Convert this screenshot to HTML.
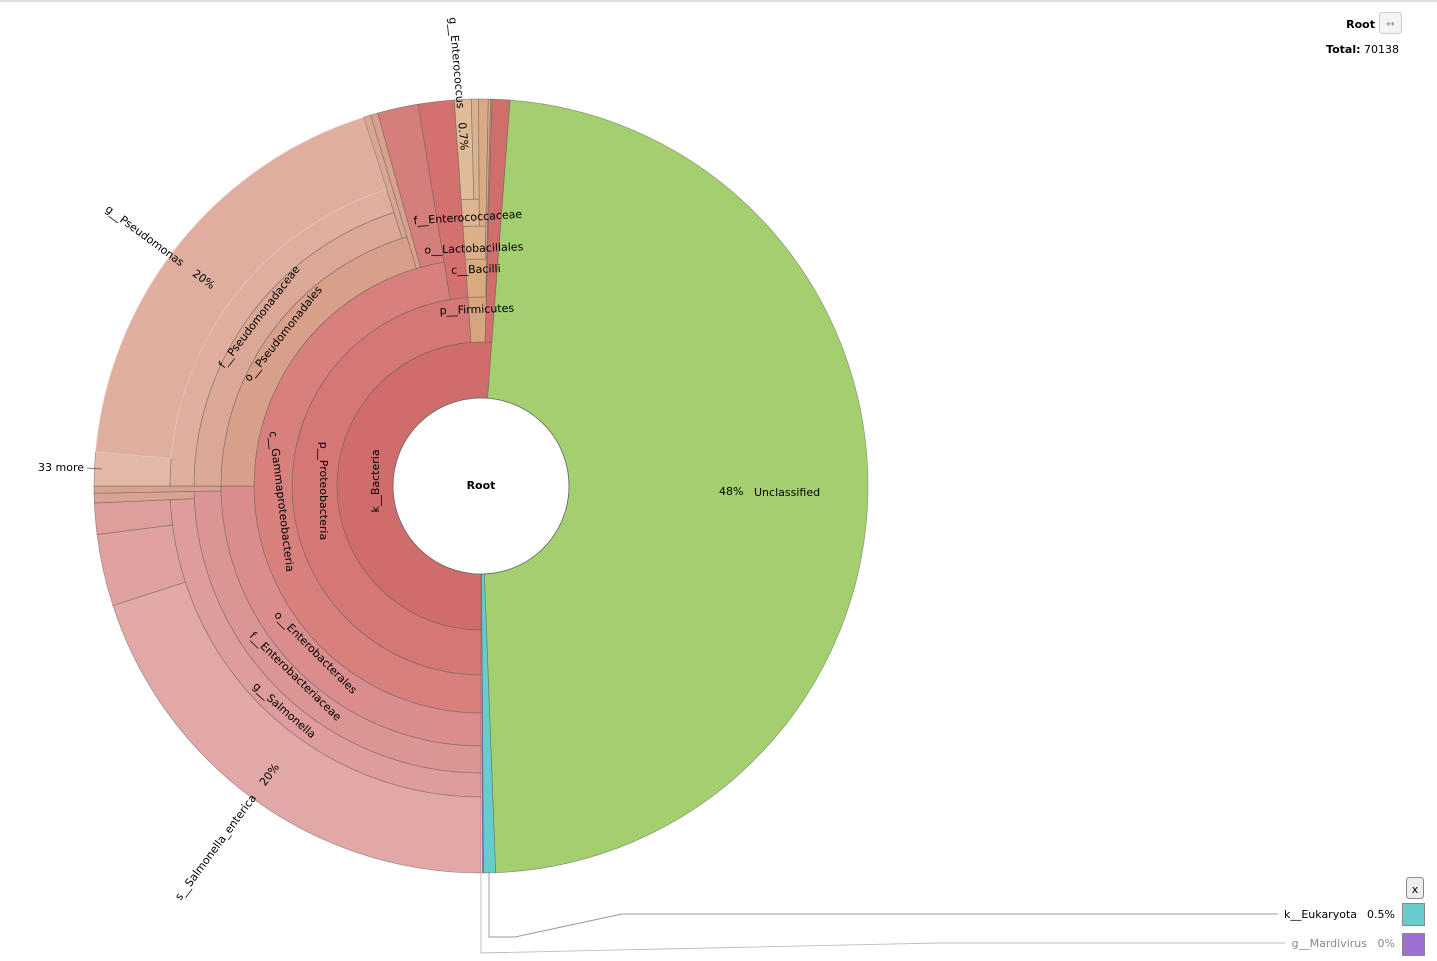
<!DOCTYPE html>
<html><head><meta charset="utf-8"><style>
html,body{margin:0;padding:0;background:#fff;width:1437px;height:961px;overflow:hidden;font-family:"DejaVu Sans","Liberation Sans",sans-serif;}
svg{position:absolute;left:0;top:0}
text{font-family:"DejaVu Sans","Liberation Sans",sans-serif;font-size:11px;fill:#000;white-space:pre}
</style></head><body>
<svg id="chart" width="1437" height="961">
<line x1="0" y1="1" x2="1437" y2="1" stroke="#bbb"/>
<g id="wedges"></g>
<circle cx="481" cy="486" r="88" fill="#fff" stroke="#666" stroke-width="0.8"/>
<text x="481" y="489" text-anchor="middle" font-weight="bold">Root</text>
<g id="labels">
<text transform="translate(379,481) rotate(-90)" text-anchor="middle">k__Bacteria</text>
<text transform="translate(320,491) rotate(90)" text-anchor="middle">p__Proteobacteria</text>
<text transform="translate(278,502) rotate(83)" text-anchor="middle">c__Gammaproteobacteria</text>
<text transform="translate(313,655) rotate(45)" text-anchor="middle">o__Enterobacterales</text>
<text transform="translate(293,679) rotate(44)" text-anchor="middle">f__Enterobacteriaceae</text>
<text transform="translate(282,713) rotate(41)" text-anchor="middle">g__Salmonella</text>
<text transform="translate(230,834) rotate(-53.5)" text-anchor="middle">s__Salmonella_enterica    20%</text>
<text transform="translate(158,250) rotate(36.5)" text-anchor="middle">g__Pseudomonas    20%</text>
<text transform="translate(262,319) rotate(-52.6)" text-anchor="middle">f__Pseudomonadaceae</text>
<text transform="translate(286,336) rotate(-51.7)" text-anchor="middle">o__Pseudomonadales</text>
<text x="84" y="471" text-anchor="end">33 more</text>
<line x1="87" y1="468" x2="102" y2="469" stroke="#555" stroke-width="0.8"/>
<text transform="translate(455,84) rotate(85)" text-anchor="middle">g__Enterococcus    0.7%</text>
<text transform="translate(468,221) rotate(-3.5)" text-anchor="middle">f__Enterococcaceae</text>
<text transform="translate(474,252) rotate(-2)" text-anchor="middle">o__Lactobacillales</text>
<text transform="translate(476,273) rotate(-2)" text-anchor="middle">c__Bacilli</text>
<text transform="translate(477,313) rotate(-2)" text-anchor="middle">p__Firmicutes</text>
<text x="719" y="495">48%</text>
<text x="754" y="496">Unclassified</text>
</g>
<text x="1375" y="28" text-anchor="end" font-weight="bold">Root</text>
<rect x="1379.5" y="12.5" width="22" height="21" rx="3" fill="#f4f4f4" stroke="#ccc"/>
<text x="1390.5" y="27" text-anchor="middle" style="fill:#888;font-size:10px">↔</text>
<text x="1399" y="53" text-anchor="end"><tspan font-weight="bold">Total:</tspan> 70138</text>
<rect x="1406.5" y="877.5" width="17" height="21" rx="3" fill="#eee" stroke="#888"/>
<text x="1415" y="893" text-anchor="middle">x</text>
<polyline points="1278,914 622,914 515,937 489,937 489,873" fill="none" stroke="#999" stroke-width="0.9"/>
<polyline points="1285,943 937,943 481,953 481,873" fill="none" stroke="#bbb" stroke-width="0.9"/>
<text x="1357" y="918" text-anchor="end">k__Eukaryota</text>
<text x="1395" y="918" text-anchor="end">0.5%</text>
<rect x="1402.5" y="903.5" width="22" height="22" fill="#66cccc" stroke="#888"/>
<text x="1367" y="947" text-anchor="end" style="fill:#888">g__Mardivirus</text>
<text x="1395" y="947" text-anchor="end" style="fill:#888">0%</text>
<rect x="1402.5" y="933.5" width="22" height="22" fill="#9b6fd4" stroke="#888"/>
</svg>
<script>
// Hierarchy data (percent of total reads)
const nodeNames = ["Root","k__Bacteria","p__Proteobacteria","c__Gammaproteobacteria","o__Enterobacterales","f__Enterobacteriaceae","g__Salmonella","s__Salmonella_enterica","s__Salmonella_other1","s__Salmonella_other2","g__other_entero","f__other_entero","o__Pseudomonadales","f__Pseudomonadaceae","g__Pseudomonas","33 more","s__Pseudomonas_sp","f__other_pseudo","o__other_small","o__other_gamma","c__other_proteo","p__Firmicutes","c__Bacilli","o__Lactobacillales","f__Enterococcaceae","g__Enterococcus","g__other_enterococ","f__other_lacto","o__other_bacilli","c__other_firm","p__other","Unclassified","k__Eukaryota","g__Mardivirus"];
const nodeParents = [-1,0,1,2,3,4,5,6,6,6,5,4,3,12,13,14,14,12,3,3,2,1,21,22,23,24,24,23,22,21,1,0,0,0];
const nodeValues = [100,51.2,48.9,47.4,25.0,24.7,24.3,20.0,3.0,1.3,0.4,0.3,20.4,20.1,20.1,1.4,18.7,0.3,0.3,1.7,1.5,1.55,1.5,1.4,1.0,0.7,0.3,0.4,0.1,0.05,0.75,48.2,0.5,0.05];
const nodeColors = ["#fff","#cf6d6c","#d47775","#d7807e","#da8d8c","#dc9595","#de9c9c","#e1a8a7","#e0a2a1","#dd9e9c","#d9a393","#d8a08e","#d89f8a","#dba897","#dfae9e","#e2b9a8","#dfae9e","#d9a593","#d9a08b","#d57f7d","#d3716f","#d7a47d","#d9a980","#dbaf88","#ddb590","#e0bb98","#dbb08e","#d9aa85","#d8a680","#d6a27c","#d06e6c","#a3cf6f","#66cccc","#9b6fd4"];

const cx=481, cy=486, startAngle=180, degPerUnit=3.6;
const ringR=[0,88,144,189,227,260,287,311,387];
const svgNS="http://www.w3.org/2000/svg";
const g=document.getElementById('wedges');
function pt(r,a){const t=a*Math.PI/180;return [cx+r*Math.sin(t), cy-r*Math.cos(t)];}
function arcPath(r0,r1,a0,a1){
  const large=(a1-a0)>180?1:0;
  const p0=pt(r1,a0),p1=pt(r1,a1),p2=pt(r0,a1),p3=pt(r0,a0);
  return `M${p0[0]},${p0[1]}A${r1},${r1} 0 ${large} 1 ${p1[0]},${p1[1]}L${p2[0]},${p2[1]}A${r0},${r0} 0 ${large} 0 ${p3[0]},${p3[1]}Z`;
}
const depth=[0], start=[startAngle], hasKids=nodeNames.map(()=>false);
const cursor={0:startAngle};
for(let i=1;i<nodeNames.length;i++){
  const p=nodeParents[i];
  hasKids[p]=true;
  depth[i]=depth[p]+1;
  if(cursor[p]===undefined) cursor[p]=start[p];
  start[i]=cursor[p];
  cursor[p]+=nodeValues[i]*degPerUnit;
}
for(let i=1;i<nodeNames.length;i++){
  const a0=start[i], a1=a0+nodeValues[i]*degPerUnit;
  const r0=ringR[depth[i]], r1=hasKids[i]?ringR[depth[i]+1]:ringR[ringR.length-1];
  const path=document.createElementNS(svgNS,'path');
  path.setAttribute('d',arcPath(r0,r1,a0,a1));
  path.setAttribute('fill',nodeColors[i]);
  const light=(nodeNames[i]==="s__Pseudomonas_sp");
  path.setAttribute('stroke',light?'#f3dcd2':'#555');
  path.setAttribute('stroke-opacity',light?'0.8':'0.55');
  path.setAttribute('stroke-width','0.7');
  
  
  g.appendChild(path);
}
</script>
</body></html>
